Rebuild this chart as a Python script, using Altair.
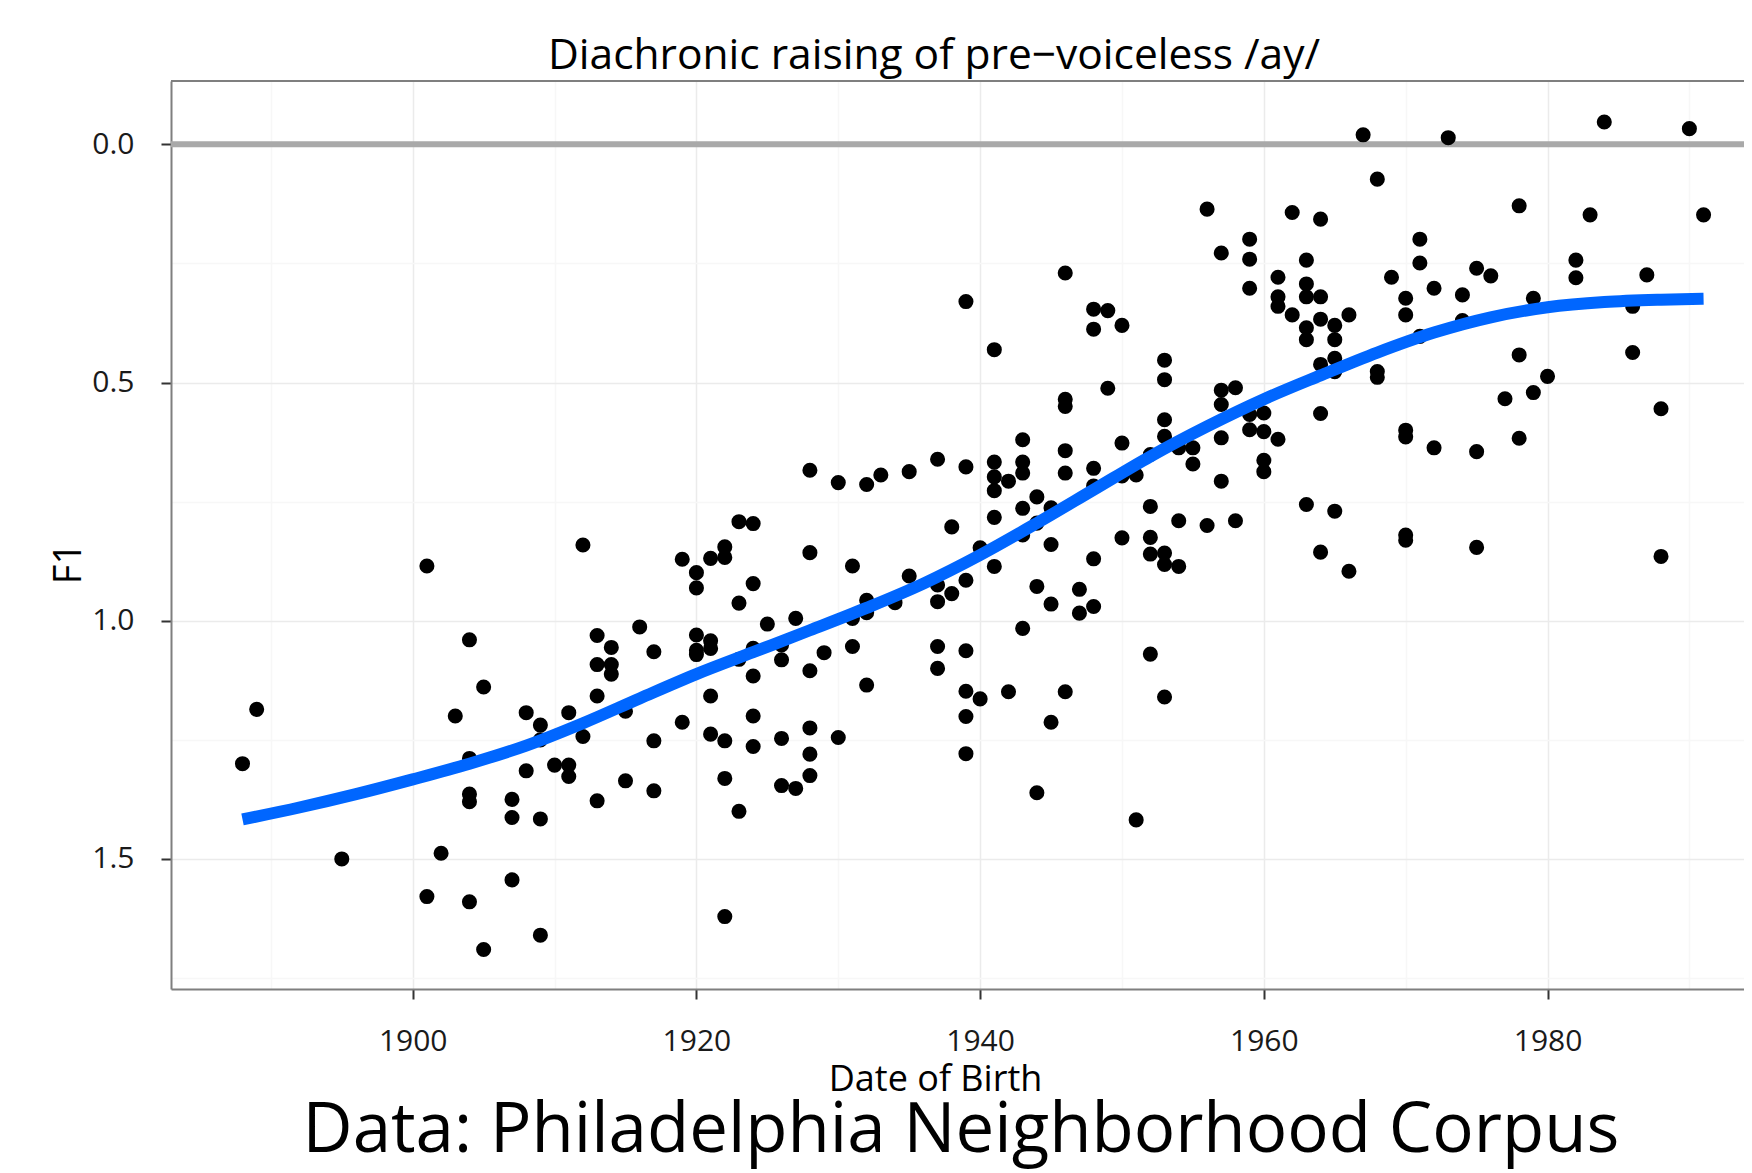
import altair as alt
import pandas as pd

TITLE = "Diachronic raising of pre\u2212voiceless /ay/"
X_TITLE = "Date of Birth"
Y_TITLE = "F1"
CAPTION = "Data: Philadelphia Neighborhood Corpus"

birth_year = [
    1888, 1889, 1895,
    1901, 1901, 1902, 1903,
    1904, 1904, 1904, 1904, 1904,
    1905, 1905, 1907, 1907, 1907, 1908, 1908,
    1909, 1909, 1909, 1909, 1910, 1911, 1911, 1911,
    1912, 1912, 1913, 1913, 1913, 1913, 1914, 1914, 1914,
    1915, 1915, 1916, 1917, 1917, 1917, 1919, 1919,
    1920, 1920, 1920, 1920, 1920,
    1921, 1921, 1921, 1921, 1921,
    1922, 1922, 1922, 1922, 1922,
    1923, 1923, 1923, 1923,
    1924, 1924, 1924, 1924, 1924, 1924,
    1925, 1926, 1926, 1926, 1926, 1927, 1927,
    1928, 1928, 1928, 1928, 1928, 1928,
    1929, 1930, 1930, 1931, 1931, 1931,
    1932, 1932, 1932, 1932, 1933, 1934, 1935, 1935,
    1937, 1937, 1937, 1937, 1937, 1938, 1938,
    1939, 1939, 1939, 1939, 1939, 1939, 1939,
    1940, 1940,
    1941, 1941, 1941, 1941, 1941, 1941,
    1942, 1942,
    1943, 1943, 1943, 1943, 1943, 1943,
    1944, 1944, 1944, 1944,
    1945, 1945, 1945, 1945,
    1946, 1946, 1946, 1946, 1946, 1946,
    1947, 1947,
    1948, 1948, 1948, 1948, 1948, 1948,
    1949, 1949, 1950, 1950, 1950, 1950, 1951, 1951,
    1952, 1952, 1952, 1952, 1952,
    1953, 1953, 1953, 1953, 1953, 1953, 1953,
    1954, 1954, 1954, 1955, 1955, 1956, 1956,
    1957, 1957, 1957, 1957, 1957, 1958, 1958,
    1959, 1959, 1959, 1959, 1959,
    1960, 1960, 1960, 1960,
    1961, 1961, 1961, 1961, 1962, 1962,
    1963, 1963, 1963, 1963, 1963, 1963,
    1964, 1964, 1964, 1964, 1964, 1964,
    1965, 1965, 1965, 1965, 1965, 1966, 1966,
    1967, 1968, 1968, 1968, 1969,
    1970, 1970, 1970, 1970, 1970, 1970,
    1971, 1971, 1971, 1972, 1972, 1973, 1974, 1974,
    1975, 1975, 1975, 1976, 1977, 1978, 1978, 1978,
    1979, 1979, 1980, 1982, 1982, 1983, 1984,
    1986, 1986, 1987, 1988, 1988, 1990, 1991,
]

f1 = [
    1.30, 1.186, 1.50,
    0.885, 1.579, 1.488, 1.20,
    1.04, 1.289, 1.364, 1.38, 1.59,
    1.139, 1.69, 1.375, 1.413, 1.544, 1.193, 1.315,
    1.219, 1.25, 1.416, 1.66, 1.303, 1.193, 1.303, 1.327,
    0.841, 1.243, 1.031, 1.092, 1.158, 1.378, 1.056, 1.092, 1.112,
    1.19, 1.336, 1.013, 1.065, 1.252, 1.357, 0.871, 1.213,
    0.899, 0.931, 1.03, 1.062, 1.071,
    0.869, 1.042, 1.058, 1.158, 1.238,
    0.845, 0.867, 1.252, 1.331, 1.621,
    0.792, 0.963, 1.081, 1.40,
    0.796, 0.922, 1.058, 1.116, 1.20, 1.264,
    1.007, 1.051, 1.082, 1.247, 1.346, 0.995, 1.352,
    0.684, 0.857, 1.105, 1.225, 1.28, 1.325,
    1.067, 0.71, 1.245, 0.885, 0.995, 1.054,
    0.714, 0.957, 0.983, 1.135, 0.694, 0.962, 0.687, 0.906,
    0.661, 0.925, 0.96, 1.054, 1.10, 0.803, 0.943,
    0.33, 0.677, 0.915, 1.063, 1.148, 1.201, 1.279,
    0.847, 1.164,
    0.431, 0.667, 0.698, 0.727, 0.783, 0.886,
    0.707, 1.149,
    0.62, 0.667, 0.69, 0.764, 0.82, 1.016,
    0.74, 0.795, 0.928, 1.361,
    0.763, 0.84, 0.965, 1.213,
    0.27, 0.535, 0.55, 0.643, 0.69, 1.149,
    0.934, 0.984,
    0.346, 0.388, 0.68, 0.717, 0.87, 0.97,
    0.349, 0.512, 0.38, 0.627, 0.696, 0.826, 0.694, 1.418,
    0.651, 0.76, 0.825, 0.86, 1.07,
    0.453, 0.494, 0.578, 0.613, 0.858, 0.882, 1.16,
    0.637, 0.79, 0.886, 0.637, 0.671, 0.136, 0.80,
    0.228, 0.516, 0.546, 0.616, 0.707, 0.511, 0.79,
    0.199, 0.241, 0.302, 0.567, 0.599,
    0.564, 0.603, 0.663, 0.687,
    0.279, 0.32, 0.34, 0.619, 0.143, 0.358,
    0.243, 0.293, 0.32, 0.385, 0.41, 0.756,
    0.157, 0.32, 0.367, 0.462, 0.565, 0.856,
    0.38, 0.41, 0.449, 0.477, 0.77, 0.358, 0.896,
    -0.02, 0.073, 0.477, 0.489, 0.279,
    0.323, 0.358, 0.60, 0.614, 0.82, 0.831,
    0.199, 0.249, 0.403, 0.302, 0.637, -0.014, 0.316, 0.37,
    0.26, 0.645, 0.846, 0.276, 0.534, 0.129, 0.442, 0.617,
    0.323, 0.521, 0.487, 0.243, 0.28, 0.148, -0.047,
    0.34, 0.437, 0.274, 0.555, 0.865, -0.033, 0.148,
]

smooth_year = [1888, 1892, 1896, 1900, 1904, 1908, 1912, 1916, 1920, 1924,
               1928, 1932, 1936, 1940, 1944, 1948, 1952, 1956, 1960, 1964,
               1968, 1972, 1976, 1980, 1984, 1988, 1991]
smooth_f1 = [1.417, 1.392, 1.364, 1.333, 1.300, 1.262, 1.215, 1.163, 1.112, 1.066,
             1.020, 0.973, 0.922, 0.862, 0.795, 0.725, 0.655, 0.592, 0.535, 0.485,
             0.437, 0.395, 0.363, 0.342, 0.331, 0.326, 0.324]

x_grid_values = [1890, 1900, 1910, 1920, 1930, 1940, 1950, 1960, 1970, 1980, 1990]
y_grid_values = [0.0, 0.25, 0.5, 0.75, 1.0, 1.25, 1.5, 1.75]
reference_f1 = [0.0]

# ---- layout (pixels) ----
PLOT_W = 1573
PLOT_H = 908
FONT = "Open Sans"

points = pd.DataFrame({"year": birth_year, "f1": f1})
smooth = pd.DataFrame({"year": smooth_year, "f1": smooth_f1})
ref = pd.DataFrame({"f1": reference_f1})
dummy = pd.DataFrame({"k": [0]})

x_scale = alt.Scale(domain=[1882.96, 1993.85], nice=False, zero=False)
y_scale = alt.Scale(domain=[-0.133, 1.773], reverse=True, nice=False, zero=False)

x_major = "datum.value % 20 == 0"
y_major = "round(datum.value * 100) % 50 == 0"

x_axis = alt.Axis(
    values=x_grid_values, format="d", title=X_TITLE,
    labelExpr=f"{x_major} ? datum.label : ''",
    gridColor={"condition": {"test": x_major, "value": "#EBEBEB"}, "value": "#F7F7F7"},
    tickOpacity={"condition": {"test": x_major, "value": 1}, "value": 0},
    titleX=764, titleY=101, titleAlign="center", titleBaseline="alphabetic",
)
y_axis = alt.Axis(
    values=y_grid_values, format=".1f", title=Y_TITLE,
    labelExpr=f"{y_major} ? datum.label : ''",
    gridColor={"condition": {"test": y_major, "value": "#EBEBEB"}, "value": "#F7F7F7"},
    tickOpacity={"condition": {"test": y_major, "value": 1}, "value": 0},
    titleX=-91, titleY=482, titleAngle=270, titleAlign="center", titleBaseline="alphabetic",
    titleFontSize=38,
)

X = alt.X("year:Q", scale=x_scale, axis=x_axis, title=X_TITLE)
Y = alt.Y("f1:Q", scale=y_scale, axis=y_axis, title=Y_TITLE)

pts = alt.Chart(points).mark_circle(size=227, color="black", opacity=1).encode(x=X, y=Y)

zero_line = alt.Chart(ref).mark_rule(color="#A9A9A9", strokeWidth=6).encode(y=Y)

line = alt.Chart(smooth).mark_line(
    color="#0066FF", strokeWidth=12, interpolate="monotone"
).encode(x=X, y=Y)

top_border = alt.Chart(dummy).mark_rule(color="#7F7F7F", strokeWidth=2).encode(
    x=alt.value(0), x2=alt.value(PLOT_W), y=alt.value(0),
)

title = alt.Chart(dummy).mark_text(
    text=TITLE, font=FONT, fontSize=42.5, color="black", align="center", baseline="alphabetic"
).encode(x=alt.value(763), y=alt.value(-12))

caption = alt.Chart(dummy).mark_text(
    text=CAPTION, font=FONT, fontSize=69, color="black", align="center", baseline="alphabetic"
).encode(x=alt.value(790), y=alt.value(1071))

chart = alt.layer(zero_line, pts, line, top_border, title, caption).properties(
    width=PLOT_W,
    height=PLOT_H,
    padding={"left": 163, "top": 73, "right": 0, "bottom": 184},
    autosize=alt.AutoSizeParams(type="none"),
    background="white",
).configure_view(
    strokeWidth=0,
).configure_axis(
    domainColor="#7F7F7F", domainWidth=2,
    tickColor="#333333", tickSize=10, tickWidth=2,
    gridWidth=1.5,
    labelFont=FONT, labelFontSize=30, labelColor="#1A1A1A", labelPadding=27,
    titleFont=FONT, titleFontSize=36, titleFontWeight="normal", titleColor="black",
)

chart.save("out.html", embed_options={"renderer": "svg", "actions": False})
